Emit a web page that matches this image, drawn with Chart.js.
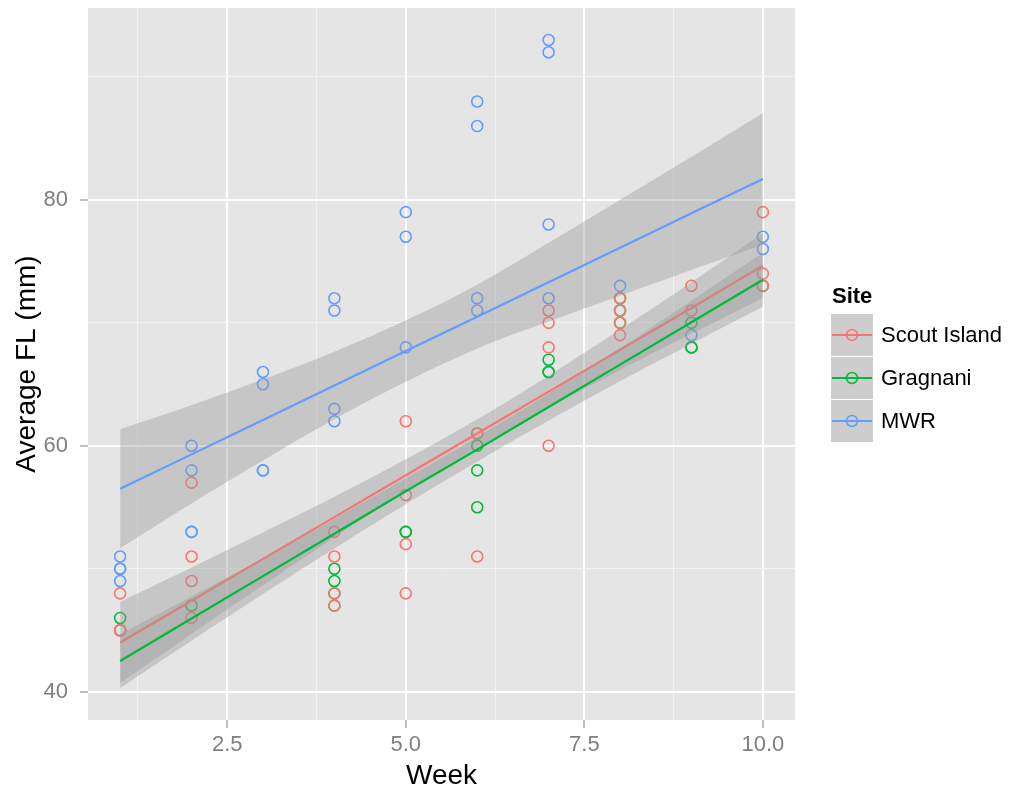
<!DOCTYPE html>
<html>
<head>
<meta charset="utf-8">
<title>Average FL by Week</title>
<script src="https://cdn.jsdelivr.net/npm/chart.js@4.4.0/dist/chart.umd.min.js"></script>
<style>
  html, body { margin: 0; padding: 0; background: #fff; }
</style>
</head>
<body>
<canvas id="flChart" width="1017" height="794"></canvas>
<script>
// ================= DATA =================
const siteNames = ["Scout Island", "Gragnani", "MWR"];
const siteColors = ["#F8766D", "#00BA38", "#619CFF"];

// raw points (week, average FL)
const scoutWeeks = [1, 1, 1, 2, 2, 2, 2, 4, 4, 4, 4, 5, 5, 5, 5, 6, 6, 7, 7, 7, 7, 8, 8, 8, 8, 9, 9, 10, 10, 10];
const scoutFL    = [48, 45, 45, 57, 51, 49, 46, 53, 51, 48, 47, 62, 56, 52, 48, 61, 51, 71, 70, 68, 60, 72, 71, 70, 69, 73, 71, 79, 74, 73];

const gragWeeks = [1, 1, 2, 4, 4, 4, 4, 5, 5, 6, 6, 6, 6, 7, 7, 7, 8, 8, 8, 9, 9, 9, 10];
const gragFL    = [46, 45, 47, 50, 49, 48, 47, 53, 53, 61, 60, 58, 55, 67, 66, 66, 72, 71, 70, 70, 68, 68, 73];

const mwrWeeks = [1, 1, 1, 1, 2, 2, 2, 2, 3, 3, 3, 3, 4, 4, 4, 4, 5, 5, 5, 6, 6, 6, 6, 7, 7, 7, 7, 8, 9, 10, 10];
const mwrFL    = [51, 50, 50, 49, 60, 58, 53, 53, 66, 65, 58, 58, 72, 71, 63, 62, 79, 77, 68, 88, 86, 72, 71, 93, 92, 78, 72, 73, 69, 77, 76];

// fitted lines and confidence bands
const fitWeeks = [1, 2, 3, 4, 5, 6, 7, 8, 9, 10];
const scoutFit = [44.0, 47.4, 50.8, 54.2, 57.6, 61.0, 64.4, 67.8, 71.2, 74.65];
const scoutHi  = [47.3, 50.1, 52.95, 55.85, 58.9, 62.15, 65.7, 69.45, 73.3, 77.3];
const scoutLo  = [40.7, 44.7, 48.65, 52.55, 56.3, 59.85, 63.1, 66.15, 69.1, 72.0];

const gragFit = [42.5, 45.95, 49.4, 52.85, 56.3, 59.7, 63.15, 66.6, 70.05, 73.5];
const gragHi  = [44.7, 47.75, 50.85, 54.05, 57.35, 60.7, 64.25, 67.95, 71.8, 75.7];
const gragLo  = [40.3, 44.15, 47.95, 51.65, 55.25, 58.7, 62.05, 65.25, 68.3, 71.3];

const mwrFit = [56.5, 59.3, 62.1, 64.9, 67.7, 70.5, 73.3, 76.1, 78.9, 81.7];
const mwrHi  = [61.35, 63.3, 65.4, 67.65, 70.2, 73.1, 76.5, 80.0, 83.5, 87.05];
const mwrLo  = [51.65, 55.3, 58.8, 62.15, 65.2, 67.9, 70.1, 72.2, 74.3, 76.35];

const xTicks = [1.25, 2.5, 3.75, 5, 6.25, 7.5, 8.75, 10];
const yTicks = [40, 50, 60, 70, 80, 90];

const FONT = '"Liberation Sans", Arial, Helvetica, sans-serif';
const RIBBON = "rgba(153,153,153,0.4)";

function toXY(xs, ys) {
  return xs.map((x, i) => ({ x: x, y: ys[i] }));
}

// ================= DATASETS =================
const pointSets = [[scoutWeeks, scoutFL], [gragWeeks, gragFL], [mwrWeeks, mwrFL]];
const fitSets = [[scoutFit, scoutHi, scoutLo], [gragFit, gragHi, gragLo], [mwrFit, mwrHi, mwrLo]];

let datasets = [];

pointSets.forEach((p, i) => {
  datasets.push({
    type: "scatter",
    label: siteNames[i],
    data: toXY(p[0], p[1]),
    backgroundColor: "rgba(0,0,0,0)",
    borderColor: siteColors[i],
    pointRadius: 5.5,
    pointBorderWidth: 1.6,
    pointHoverRadius: 5.5,
    showLine: false,
    order: 100,
  });
});

fitSets.forEach((f, i) => {
  let base = 60 - i * 20;
  // ribbon upper edge, filled down to next dataset (lower edge)
  datasets.push({
    type: "line",
    label: siteNames[i] + " hi",
    data: toXY(fitWeeks, f[1]),
    borderWidth: 0,
    borderColor: "rgba(0,0,0,0)",
    pointRadius: 0,
    fill: "+1",
    backgroundColor: RIBBON,
    tension: 0.4,
    order: base,
  });
  datasets.push({
    type: "line",
    label: siteNames[i] + " lo",
    data: toXY(fitWeeks, f[2]),
    borderWidth: 0,
    borderColor: "rgba(0,0,0,0)",
    pointRadius: 0,
    fill: false,
    tension: 0.4,
    order: base,
  });
  datasets.push({
    type: "line",
    label: siteNames[i] + " fit",
    data: toXY(fitWeeks, f[0]),
    borderWidth: 2.2,
    borderColor: siteColors[i],
    pointRadius: 0,
    fill: false,
    order: base - 10,
  });
});

// ================= PLUGINS =================
const panelBg = {
  id: "panelBg",
  beforeDraw(chart) {
    const a = chart.chartArea;
    const c = chart.ctx;
    c.save();
    c.fillStyle = "#E5E5E5";
    c.fillRect(a.left, a.top, a.right - a.left, a.bottom - a.top);
    c.restore();
  },
};

const siteLegend = {
  id: "siteLegend",
  afterDraw(chart) {
    const c = chart.ctx;
    c.save();
    c.fillStyle = "#000";
    c.font = "bold 22px " + FONT;
    c.textBaseline = "alphabetic";
    c.fillText("Site", 832, 303);

    const tops = [314, 357, 400];
    siteNames.forEach((name, i) => {
      const y0 = tops[i];
      c.fillStyle = "#CDCDCD";
      c.fillRect(831, y0, 42, 42);
      const cy = y0 + 21;
      c.strokeStyle = siteColors[i];
      c.lineWidth = 2;
      c.beginPath();
      c.moveTo(832, cy);
      c.lineTo(872, cy);
      c.stroke();
      c.lineWidth = 1.5;
      c.beginPath();
      c.arc(852, cy, 5.5, 0, Math.PI * 2);
      c.stroke();
      c.fillStyle = "#000";
      c.font = "22px " + FONT;
      c.textBaseline = "middle";
      c.fillText(name, 881, cy + 1);
    });
    c.restore();
  },
};

// ================= CHART =================
new Chart(document.getElementById("flChart"), {
  type: "scatter",
  data: { datasets: datasets },
  options: {
    responsive: false,
    animation: false,
    layout: { padding: { left: 0, right: 222, top: 8, bottom: 0 } },
    plugins: {
      legend: { display: false },
      tooltip: { enabled: false },
    },
    scales: {
      x: {
        type: "linear",
        min: 0.55,
        max: 10.45,
        afterBuildTicks: (scale) => {
          scale.ticks = xTicks.map((v) => ({ value: v }));
        },
        afterFit: (scale) => {
          scale.height = 74;
          scale.paddingLeft = 0;
          scale.paddingRight = 0;
        },
        ticks: {
          autoSkip: false,
          maxRotation: 0,
          padding: 4,
          color: "#7F7F7F",
          font: { family: FONT, size: 22 },
          callback: (v) => (v % 2.5 === 0 ? v.toFixed(1) : ""),
        },
        grid: {
          color: (ctx) => (ctx.tick && ctx.tick.value % 2.5 === 0 ? "#FFFFFF" : "#F2F2F2"),
          lineWidth: (ctx) => (ctx.tick && ctx.tick.value % 2.5 === 0 ? 2 : 1),
          tickColor: (ctx) => (ctx.tick && ctx.tick.value % 2.5 === 0 ? "#7F7F7F" : "rgba(0,0,0,0)"),
          tickLength: 8,
          tickWidth: 1,
        },
        border: { display: false },
        title: {
          display: true,
          text: "Week",
          color: "#000",
          font: { family: FONT, size: 28 },
          padding: { top: 0, bottom: 1 },
        },
      },
      y: {
        type: "linear",
        min: 37.7,
        max: 95.6,
        afterBuildTicks: (scale) => {
          scale.ticks = yTicks.map((v) => ({ value: v }));
        },
        afterFit: (scale) => {
          scale.width = 88;
          scale.paddingTop = 0;
          scale.paddingBottom = 0;
        },
        ticks: {
          autoSkip: false,
          padding: 12,
          color: "#7F7F7F",
          font: { family: FONT, size: 22 },
          callback: (v) => (v % 20 === 0 ? String(v) : ""),
        },
        grid: {
          color: (ctx) => (ctx.tick && ctx.tick.value % 20 === 0 ? "#FFFFFF" : "#F2F2F2"),
          lineWidth: (ctx) => (ctx.tick && ctx.tick.value % 20 === 0 ? 2 : 1),
          tickColor: (ctx) => (ctx.tick && ctx.tick.value % 20 === 0 ? "#7F7F7F" : "rgba(0,0,0,0)"),
          tickLength: 8,
          tickWidth: 1,
        },
        border: { display: false },
        title: {
          display: true,
          text: "Average FL (mm)",
          color: "#000",
          font: { family: FONT, size: 28 },
          padding: { top: 10, bottom: 0 },
        },
      },
    },
  },
  plugins: [panelBg, siteLegend],
});
</script>
</body>
</html>
